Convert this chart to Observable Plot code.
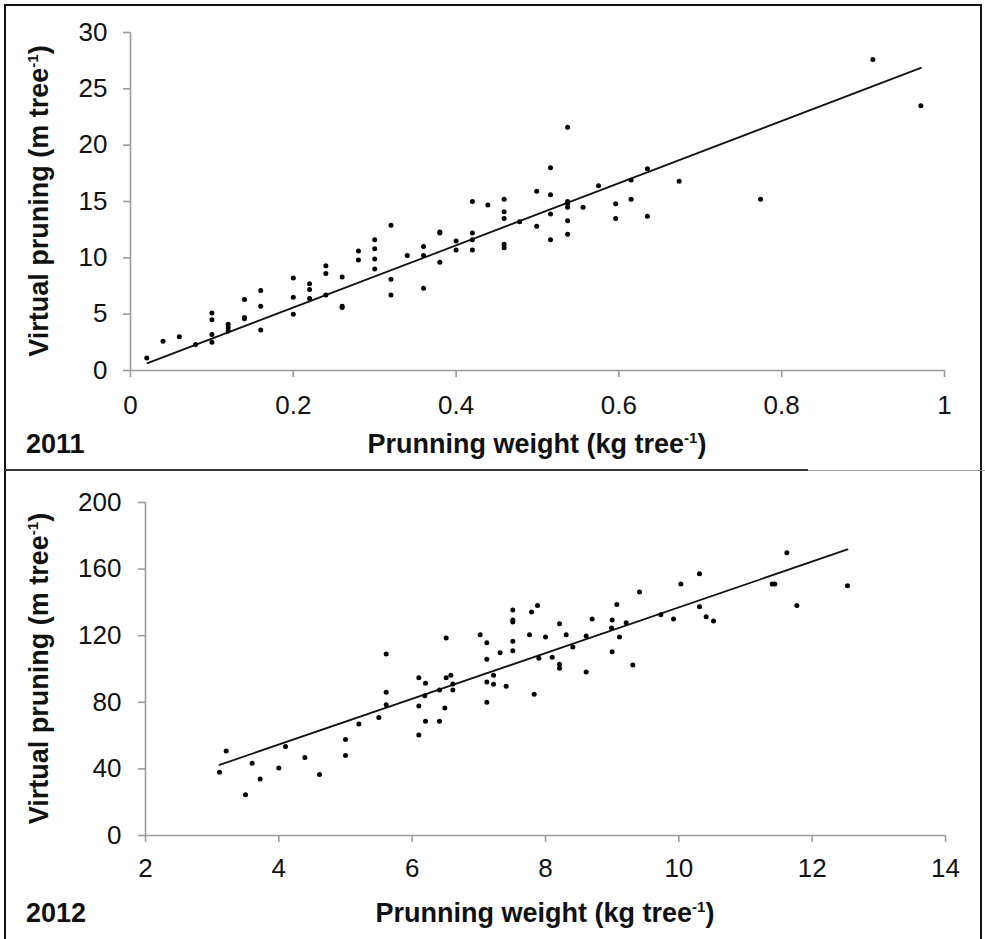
<!DOCTYPE html>
<html>
<head>
<meta charset="utf-8">
<script src="https://cdn.jsdelivr.net/npm/d3@7"></script>
<script src="https://cdn.jsdelivr.net/npm/@observablehq/plot@0.6"></script>
<style>
  body { margin: 0; background: #fff; }
  #wrap { position: relative; width: 985px; height: 939px; overflow: hidden; background: #fff;
          font-family: "Liberation Sans", Arial, sans-serif; }
  .panel { position: absolute; left: 0; }
  #border { position: absolute; left: 4px; top: 4px; width: 978px; height: 980px;
            border: 2px solid #111; box-sizing: border-box; }
  #div1 { position: absolute; left: 5px; top: 469px; width: 803px; height: 2px; background: #333; }
  #div2 { position: absolute; left: 808px; top: 470px; width: 177px; height: 1px; background: #999; }
</style>
</head>
<body>
<div id="wrap">
  <div id="border"></div>
  <div id="p1" class="panel" style="top:0px"></div>
  <div id="p2" class="panel" style="top:470px"></div>
  <div id="div1"></div>
  <div id="div2"></div>
</div>
<script>
// ---------- 2011 panel ----------
const weight2011 = [0.02,0.04,0.06,0.08,0.10,0.10,0.10,0.10,0.12,0.12,0.12,0.14,0.14,0.14,0.16,0.16,0.16,
  0.20,0.20,0.20,0.22,0.22,0.22,0.24,0.24,0.24,0.26,0.26,0.26,0.28,0.28,0.30,0.30,0.30,0.30,
  0.32,0.32,0.32,0.34,0.36,0.36,0.36,0.38,0.38,0.38,0.40,0.40,0.42,0.42,0.42,0.42,
  0.439,0.459,0.459,0.459,0.459,0.459,0.478,0.499,0.499,0.516,0.516,0.516,0.516,
  0.537,0.537,0.537,0.537,0.537,0.537,0.556,0.575,0.596,0.596,0.615,0.615,0.635,0.635,
  0.674,0.774,0.912,0.971];
const virtual2011 = [1.1,2.6,3.0,2.3,5.1,4.5,3.2,2.5,4.1,3.8,3.5,6.3,4.7,4.6,7.1,5.7,3.6,
  8.2,6.5,5.0,7.7,7.2,6.4,9.3,8.6,6.7,8.3,5.7,5.6,10.6,9.8,11.6,10.8,9.9,9.0,
  12.9,8.1,6.7,10.2,11.0,10.2,7.3,12.3,12.2,9.6,11.5,10.7,15.0,12.2,11.6,10.7,
  14.7,15.2,14.1,13.5,11.2,10.9,13.2,15.9,12.8,18.0,15.6,13.9,11.6,
  21.6,15.0,14.8,14.5,13.3,12.1,14.5,16.4,14.8,13.5,16.9,15.2,17.9,13.7,
  16.8,15.2,27.6,23.5];
const fitX2011 = [0.021, 0.971];
const fitY2011 = [0.65, 26.86];
const xTicks2011 = [0, 0.2, 0.4, 0.6, 0.8, 1];
const yTicks2011 = [0, 5, 10, 15, 20, 25, 30];

// ---------- 2012 panel ----------
const weight2012 = [3.11,3.21,3.50,3.60,3.72,4.00,4.10,4.39,4.61,5.00,5.00,5.20,5.50,5.61,5.61,5.61,
  6.10,6.10,6.10,6.20,6.19,6.20,6.41,6.41,6.51,6.51,6.49,6.58,6.61,6.61,
  7.02,7.12,7.12,7.12,7.12,7.22,7.22,7.32,7.41,7.51,7.51,7.51,7.51,7.51,
  7.76,7.79,7.83,7.88,7.90,8.00,8.10,8.21,8.21,8.21,8.31,8.41,8.61,8.61,8.70,
  8.99,9.00,9.00,9.07,9.11,9.21,9.31,9.41,9.73,9.92,10.03,10.31,10.31,10.41,10.52,
  11.40,11.44,11.62,11.77,12.53];
const virtual2012 = [38.0,50.8,24.4,43.4,34.0,40.6,53.4,46.8,36.6,57.6,48.0,67.0,70.8,109.0,86.0,78.6,
  94.8,77.8,60.4,91.4,84.0,68.6,87.4,68.6,118.6,94.8,76.6,96.2,91.0,87.4,
  120.6,115.8,105.8,92.2,80.0,96.2,90.8,109.8,89.6,135.4,129.4,128.2,116.6,111.0,
  120.6,134.2,84.8,138.2,106.4,119.2,107.0,127.2,102.8,100.4,120.6,113.2,119.8,98.2,130.0,
  124.6,129.4,110.4,138.8,119.2,127.8,102.4,146.2,132.6,130.0,151.0,157.2,137.4,131.4,128.8,
  151.0,151.0,169.8,138.2,150.0];
const fitX2012 = [3.11, 12.53];
const fitY2012 = [42.4, 171.8];
const xTicks2012 = [2, 4, 6, 8, 10, 12, 14];
const yTicks2012 = [0, 40, 80, 120, 160, 200];

const FONT = "Liberation Sans, Arial, Helvetica, sans-serif";

function panel(o) {
  const pts = o.xs.map((x, i) => ({x, y: o.ys[i]}));
  const fit = o.fx.map((x, i) => ({x, y: o.fy[i]}));
  const chart = Plot.plot({
    width: 985, height: 470,
    marginLeft: o.ml, marginRight: o.mr, marginTop: o.mt, marginBottom: o.mb,
    style: {fontFamily: FONT, fontSize: "26px", color: "#111", background: "transparent", overflow: "visible"},
    x: {domain: o.xDomain, label: null},
    y: {domain: o.yDomain, label: null},
    marks: [
      Plot.ruleY([o.yDomain[0]], {stroke: "#9a9a9a", strokeWidth: 1.6}),
      Plot.ruleX([o.xDomain[0]], {stroke: "#9a9a9a", strokeWidth: 1.6}),
      Plot.axisX({ticks: o.xTicks, tickSize: 7, tickPadding: o.padX, stroke: "#9a9a9a", strokeWidth: 1.6,
                  fill: "#111", fontSize: 26, tickFormat: d => String(d), label: null}),
      Plot.axisY({ticks: o.yTicks, tickSize: 7, tickPadding: o.padY, stroke: "#9a9a9a", strokeWidth: 1.6,
                  fill: "#111", fontSize: 26, tickFormat: d => String(d), label: null}),
      Plot.line(fit, {x: "x", y: "y", stroke: "#111", strokeWidth: 1.8}),
      Plot.dot(pts, {x: "x", y: "y", r: 2.5, fill: "#000", stroke: "none"})
    ]
  });
  const svg = d3.select(chart);
  // y title with superscript
  const yt = svg.append("text")
    .attr("transform", `translate(${o.yTitleX},${(o.mt + 470 - o.mb) / 2}) rotate(-90)`)
    .attr("text-anchor", "middle").attr("font-family", FONT).attr("font-weight", "bold")
    .attr("font-size", 27).attr("fill", "#111");
  yt.append("tspan").text("Virtual pruning (m tree");
  yt.append("tspan").attr("dy", -10).attr("font-size", 15).text("-1");
  yt.append("tspan").attr("dy", 10).text(")");
  // x title
  const xt = svg.append("text")
    .attr("x", (o.ml + 985 - o.mr) / 2).attr("y", o.titleY)
    .attr("text-anchor", "middle").attr("font-family", FONT).attr("font-weight", "bold")
    .attr("font-size", 27).attr("fill", "#111");
  xt.append("tspan").text("Prunning weight (kg tree");
  xt.append("tspan").attr("dy", -10).attr("font-size", 15).text("-1");
  xt.append("tspan").attr("dy", 10).text(")");
  // year
  svg.append("text").attr("x", 26).attr("y", o.titleY).attr("text-anchor", "start")
    .attr("font-family", FONT).attr("font-weight", "bold").attr("font-size", 27).attr("fill", "#111")
    .text(o.year);
  return chart;
}

document.getElementById("p1").appendChild(panel({
  xs: weight2011, ys: virtual2011, fx: fitX2011, fy: fitY2011,
  xDomain: [0, 1], yDomain: [0, 30], xTicks: xTicks2011, yTicks: yTicks2011,
  ml: 130, mr: 41, mt: 32, mb: 100, padX: 18, padY: 16,
  yTitleX: 48, titleY: 453, year: "2011"
}));

document.getElementById("p2").appendChild(panel({
  xs: weight2012, ys: virtual2012, fx: fitX2012, fy: fitY2012,
  xDomain: [2, 14], yDomain: [0, 200], xTicks: xTicks2012, yTicks: yTicks2012,
  ml: 145, mr: 40, mt: 32, mb: 105, padX: 16, padY: 17,
  yTitleX: 48, titleY: 452, year: "2012"
}));
</script>
</body>
</html>
